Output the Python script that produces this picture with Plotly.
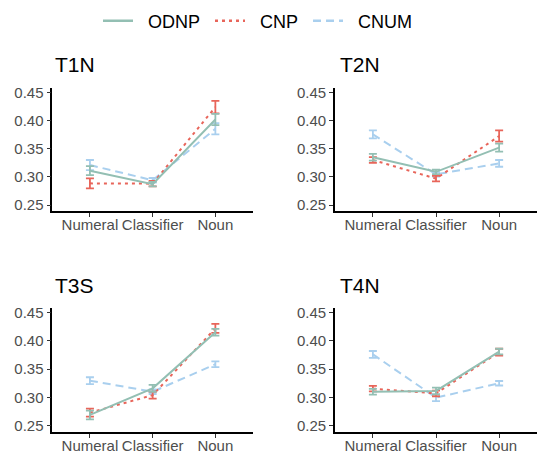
import plotly.graph_objects as go

categories = ["Numeral", "Classifier", "Noun"]
series_names = ["ODNP", "CNP", "CNUM"]
panels = ["T1N", "T2N", "T3S", "T4N"]

# mean values per panel, per series (Numeral, Classifier, Noun)
t1n_odnp = [0.311, 0.287, 0.402]
t1n_cnp = [0.2885, 0.288, 0.424]
t1n_cnum = [0.321, 0.294, 0.3855]
t1n_odnp_err = [0.008, 0.004, 0.010]
t1n_cnp_err = [0.009, 0.005, 0.011]
t1n_cnum_err = [0.009, 0.004, 0.010]

t2n_odnp = [0.335, 0.309, 0.352]
t2n_cnp = [0.330, 0.297, 0.3725]
t2n_cnum = [0.3755, 0.3045, 0.324]
t2n_odnp_err = [0.006, 0.004, 0.007]
t2n_cnp_err = [0.005, 0.005, 0.010]
t2n_cnum_err = [0.007, 0.004, 0.006]

t3s_odnp = [0.269, 0.316, 0.415]
t3s_cnp = [0.273, 0.304, 0.422]
t3s_cnum = [0.3296, 0.310, 0.3586]
t3s_odnp_err = [0.0077, 0.006, 0.006]
t3s_cnp_err = [0.007, 0.006, 0.008]
t3s_cnum_err = [0.006, 0.004, 0.005]

t4n_odnp = [0.310, 0.3114, 0.381]
t4n_cnp = [0.3155, 0.307, 0.380]
t4n_cnum = [0.376, 0.2996, 0.325]
t4n_odnp_err = [0.005, 0.006, 0.005]
t4n_cnp_err = [0.005, 0.005, 0.006]
t4n_cnum_err = [0.006, 0.006, 0.004]

y_tickvals = [0.25, 0.30, 0.35, 0.40, 0.45]
y_ticktext = ["0.25", "0.30", "0.35", "0.40", "0.45"]

data = {
    "T1N": [(t1n_odnp, t1n_odnp_err), (t1n_cnp, t1n_cnp_err), (t1n_cnum, t1n_cnum_err)],
    "T2N": [(t2n_odnp, t2n_odnp_err), (t2n_cnp, t2n_cnp_err), (t2n_cnum, t2n_cnum_err)],
    "T3S": [(t3s_odnp, t3s_odnp_err), (t3s_cnp, t3s_cnp_err), (t3s_cnum, t3s_cnum_err)],
    "T4N": [(t4n_odnp, t4n_odnp_err), (t4n_cnp, t4n_cnp_err), (t4n_cnum, t4n_cnum_err)],
}

colors = {"ODNP": "#93BFB3", "CNP": "#E8655A", "CNUM": "#A9CFEE"}
dashes = {"ODNP": "solid", "CNP": "3px,4px", "CNUM": "8px,5px"}
NB = "\u00a0"
legend_labels = {"ODNP": NB * 2 + "ODNP" + NB, "CNP": NB * 2 + "CNP" + NB, "CNUM": NB * 2 + "CNUM"}

W, H = 537, 452
xdomains = [[52.3 / W, 253.0 / W], [335.0 / W, 1.0], [52.3 / W, 253.0 / W], [335.0 / W, 1.0]]
ydomains = [[1 - 211.0 / H, 1 - 87.7 / H], [1 - 211.0 / H, 1 - 87.7 / H],
            [1 - 431.7 / H, 1 - 307.7 / H], [1 - 431.7 / H, 1 - 307.7 / H]]
title_pos = [(53, 64), (338, 64), (53, 285), (338, 285)]

FONT = "Liberation Sans, Arial, Helvetica, sans-serif"

fig = go.Figure()
# draw order: CNUM first, then CNP, then ODNP
order = [2, 1, 0]
for pi, p in enumerate(panels):
    ax = "" if pi == 0 else str(pi + 1)
    for si in order:
        name = series_names[si]
        vals, errs = data[p][si]
        fig.add_trace(go.Scatter(
            x=categories, y=vals,
            mode="lines",
            name=name,
            legendgroup=name,
            showlegend=False,
            line=dict(color=colors[name], width=2, dash=dashes[name]),
            error_y=dict(type="data", array=errs, visible=True,
                         color=colors[name], thickness=1.8, width=4),
            xaxis="x" + ax, yaxis="y" + ax,
        ))

# legend entries
for name in series_names:
    fig.add_trace(go.Scatter(
        x=[None], y=[None], mode="lines", name=legend_labels[name],
        legendgroup=name,
        line=dict(color=colors[name], width=2.5, dash=dashes[name]),
        showlegend=True, xaxis="x", yaxis="y",
    ))

layout = dict(
    width=W, height=H,
    margin=dict(l=0, r=0, t=0, b=0),
    paper_bgcolor="white", plot_bgcolor="white",
    font=dict(family=FONT, color="#4D4D4D"),
    legend=dict(orientation="h", x=98 / W, xanchor="left", y=1 - 21 / H, yanchor="middle",
                font=dict(size=18, color="black", family=FONT),
                itemwidth=30, traceorder="normal", bgcolor="rgba(0,0,0,0)"),
    showlegend=True,
)
for pi in range(4):
    ax = "" if pi == 0 else str(pi + 1)
    layout["xaxis" + ax] = dict(
        domain=xdomains[pi], anchor="y" + ax, type="category",
        categoryorder="array", categoryarray=categories,
        range=[-0.6, 2.6], showline=True, linecolor="black", linewidth=1.6,
        ticks="outside", ticklen=4, tickcolor="#333333", tickwidth=1.2,
        ticklabelstandoff=-5,
        showgrid=False, zeroline=False, automargin=False,
        tickfont=dict(size=15, color="#4D4D4D", family=FONT), fixedrange=True,
    )
    layout["yaxis" + ax] = dict(
        domain=ydomains[pi], anchor="x" + ax,
        range=[0.2394, 0.4585], showline=True, linecolor="black", linewidth=1.6,
        ticks="outside", ticklen=4, tickcolor="#333333", tickwidth=1.2,
        tickvals=y_tickvals, ticktext=y_ticktext,
        showgrid=False, zeroline=False, automargin=False,
        tickfont=dict(size=15, color="#4D4D4D", family=FONT), fixedrange=True,
    )
fig.update_layout(**layout)

for pi, p in enumerate(panels):
    tx, ty = title_pos[pi]
    fig.add_annotation(text=p, x=tx / W, y=1 - ty / H, xref="paper", yref="paper",
                       xanchor="left", yanchor="middle", showarrow=False,
                       font=dict(size=21, color="black", family=FONT))

fig.write_html("out.html", config={"displayModeBar": False},
               post_script="document.body.style.margin='0px';")
